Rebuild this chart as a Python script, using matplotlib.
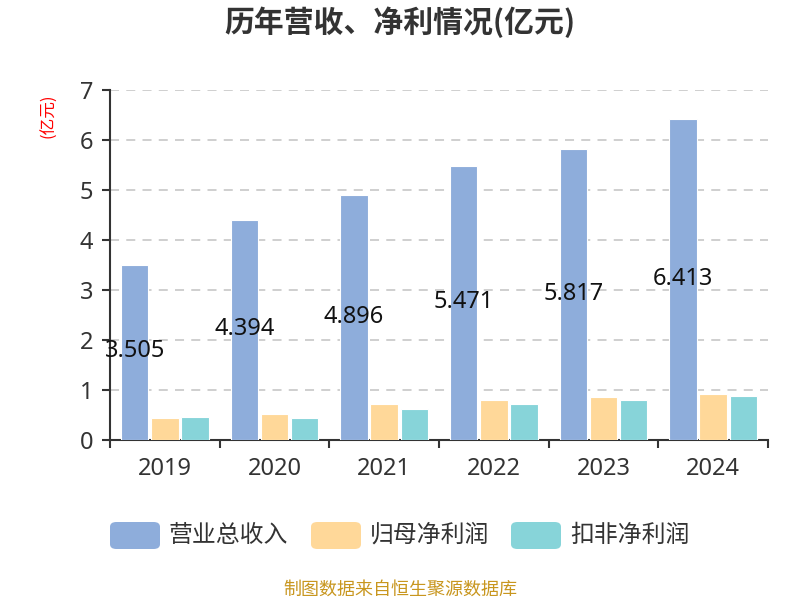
import numpy as np
import matplotlib
matplotlib.use('Agg')
from matplotlib import pyplot as plt
from matplotlib.patches import FancyBboxPatch

plt.rcParams['font.family'] = ['Noto Sans', 'Noto Sans CJK SC', 'DejaVu Sans']

years = ['2019', '2020', '2021', '2022', '2023', '2024']
revenue = [3.505, 4.394, 4.896, 5.471, 5.817, 6.413]
net_profit = [0.44, 0.51, 0.71, 0.79, 0.86, 0.92]
deducted_profit = [0.46, 0.44, 0.62, 0.71, 0.79, 0.88]
series_names = ['营业总收入', '归母净利润', '扣非净利润']
colors = ['#8eaddb', '#ffd899', '#87d4d9']

fig = plt.figure(figsize=(8, 6), dpi=100)
ax = fig.add_axes([0.1375, 0.2667, 0.8225, 0.5833])

x = np.arange(len(years))
w = 0.25
step = 0.275
for i, vals in enumerate([revenue, net_profit, deducted_profit]):
    ax.bar(x + (i - 1) * step, vals, width=w, color=colors[i],
           edgecolor='white', linewidth=0.8, zorder=3)

# value labels sit in the middle of the revenue bars
for xi, v in zip(x, revenue):
    ax.text(xi - step, v / 2 + 0.02, '%.3f' % v, ha='center', va='center',
            fontsize=17, color='#111111', zorder=5)

ax.set_xlim(-0.5, len(years) - 0.5)
ax.set_ylim(0, 7)
ax.set_yticks(range(0, 8))
ax.set_yticklabels([str(v) for v in range(0, 8)])
ax.set_xticks(x)
ax.set_xticklabels(years)
ax.set_xticks(np.arange(-0.5, len(years), 1), minor=True)
ax.tick_params(axis='x', which='major', length=0, pad=12, labelsize=17, labelcolor='#333333')
ax.tick_params(axis='x', which='minor', length=6, width=1.5, color='#333333')
ax.tick_params(axis='y', length=6, width=1.5, color='#333333', pad=6,
               labelsize=17, labelcolor='#333333')

for s in ['top', 'right']:
    ax.spines[s].set_visible(False)
for s in ['left', 'bottom']:
    ax.spines[s].set_color('#333333')
    ax.spines[s].set_linewidth(1.5)

ax.yaxis.grid(True, linestyle=(0, (5, 4)), color='#cccccc', linewidth=1.3, zorder=0)
ax.set_axisbelow(True)

fig.text(0.5, 0.963, '历年营收、净利情况(亿元)', ha='center', va='center',
         fontsize=21.5, fontweight='bold', color='#333333',
         family=['Noto Sans CJK SC', 'DejaVu Sans'])
fig.text(0.061, 0.8075, '(亿元)', ha='center', va='center', rotation=90,
         fontsize=12, color='#ff0000', family=['Noto Sans CJK SC', 'DejaVu Sans'])

# legend with rounded swatches
lx = [110, 311, 511]
for i, name in enumerate(series_names):
    fig.patches.append(FancyBboxPatch((lx[i] / 800, (600 - 549) / 600), 50 / 800, 27 / 600,
                                      boxstyle='round,pad=0,rounding_size=0.008',
                                      transform=fig.transFigure, facecolor=colors[i],
                                      edgecolor='none'))
    fig.text((lx[i] + 59) / 800, (600 - 535) / 600, name, ha='left', va='center',
             fontsize=17.2, color='#333333', family=['Noto Sans CJK SC', 'DejaVu Sans'])

fig.text(0.5, (600 - 590) / 600, '制图数据来自恒生聚源数据库', ha='center', va='center',
         fontsize=13, color='#c8961e', family=['Noto Sans CJK SC', 'DejaVu Sans'])

fig.savefig('out.png', dpi=100)
